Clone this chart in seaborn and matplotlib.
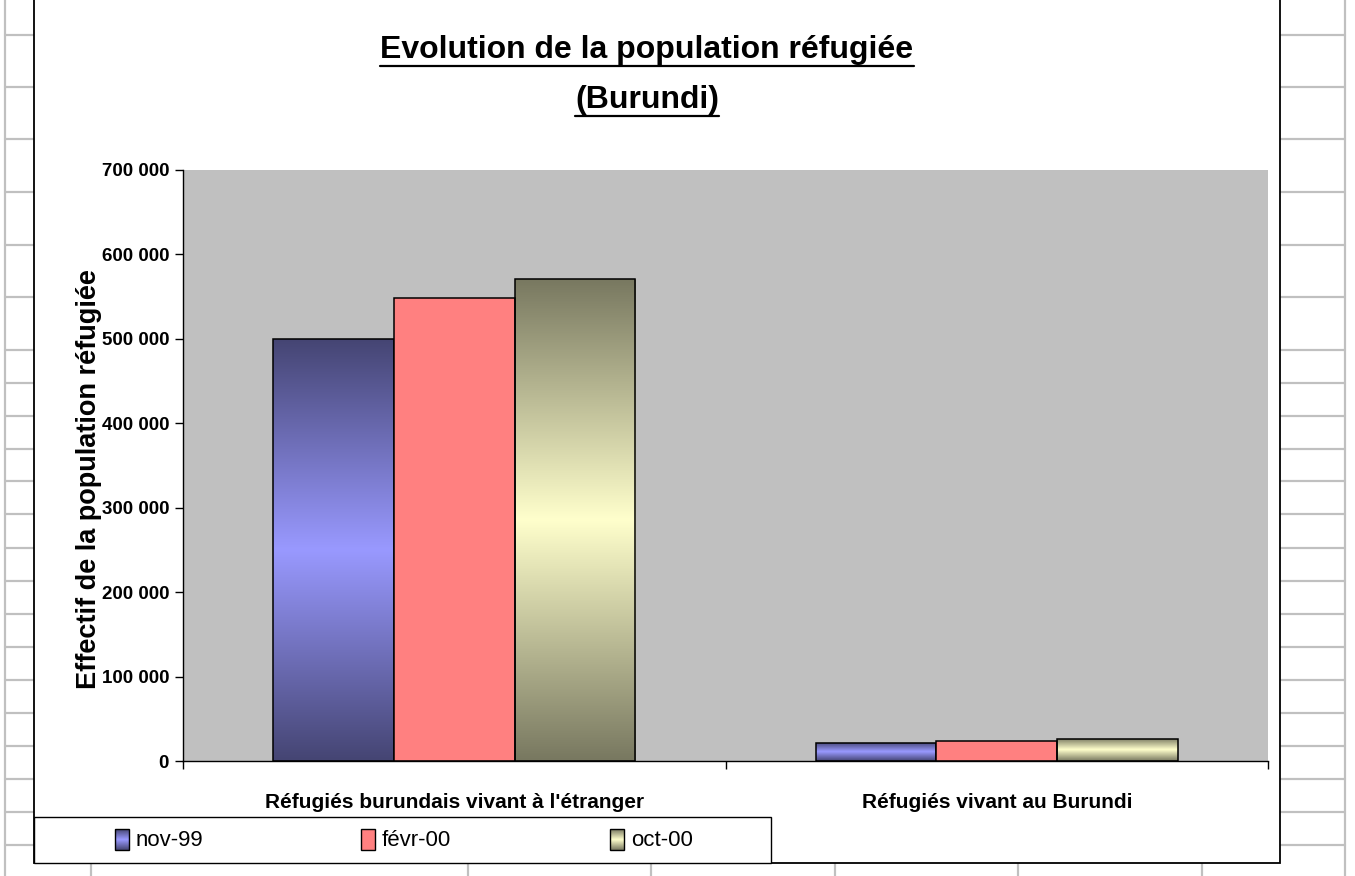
import numpy as np
import pandas as pd
import matplotlib
matplotlib.use("Agg")
import matplotlib.pyplot as plt
import seaborn as sns
from matplotlib import font_manager
from matplotlib.patches import Rectangle
from matplotlib.lines import Line2D
from matplotlib.colors import to_rgb
from matplotlib.ticker import FixedLocator, FuncFormatter

# ---- data -------------------------------------------------------------
categories = ["Réfugiés burundais vivant à l'étranger", "Réfugiés vivant au Burundi"]
periods = ["nov-99", "févr-00", "oct-00"]
values_nov99 = [500000, 21500]
values_fevr00 = [548000, 24000]
values_oct00 = [571000, 26500]
y_ticks = [0, 100000, 200000, 300000, 400000, 500000, 600000, 700000]
title_lines = ["Evolution de la population réfugiée", "(Burundi)"]
y_label = "Effectif de la population réfugiée"

series_colors = {"nov-99": "#9999FF", "févr-00": "#FF8080", "oct-00": "#FFFFCC"}
gradient_series = {"nov-99": 0.45, "oct-00": 0.47}   # shade factor of the dark edge

# ---- fonts ------------------------------------------------------------
sns.set_theme(style="white")
installed = {f.name for f in font_manager.fontManager.ttflist}
SANS = "Liberation Sans" if "Liberation Sans" in installed else "DejaVu Sans"
plt.rcParams["font.family"] = [SANS, "DejaVu Sans"]

W, H = 1355, 876
fig = plt.figure(figsize=(W / 100, H / 100), dpi=100)
fig.patch.set_facecolor("white")


def fx(x):
    return x / W


def fy(y):
    return 1 - y / H


def fig_line(xs, ys, **kw):
    fig.add_artist(Line2D([fx(v) for v in xs], [fy(v) for v in ys],
                          transform=fig.transFigure, **kw))


def fig_rect(x0, y0, x1, y1, **kw):
    r = Rectangle((fx(x0), fy(y1)), fx(x1) - fx(x0), fy(y0) - fy(y1),
                  transform=fig.transFigure, **kw)
    fig.add_artist(r)
    return r


# ---- worksheet cell grid around the chart ----------------------------
grid_kw = dict(color="#C0C0C0", linewidth=1.6, zorder=0)
row_lines = [35, 87, 139, 192, 245, 297, 350, 383, 416, 449, 481, 514, 548,
             581, 614, 647, 680, 713, 746, 779, 812, 845]
for y in row_lines:
    fig_line([5, 34], [y, y], **grid_kw)
    fig_line([1280, 1345], [y, y], **grid_kw)
fig_line([5, 5], [0, H], **grid_kw)
fig_line([1345, 1345], [0, H], **grid_kw)
for x in [91, 468, 651, 835, 1018, 1202]:
    fig_line([x, x], [863, H], **grid_kw)

# chart area
fig_rect(34, -10, 1280, 863, facecolor="white", edgecolor="black",
         linewidth=1.3, zorder=1)

# ---- plot area --------------------------------------------------------
PL, PT, PR, PB = 183, 170, 1268, 761
ax = fig.add_axes([fx(PL), fy(PB), fx(PR) - fx(PL), fy(PT) - fy(PB)], zorder=2)
ax.set_facecolor("#C0C0C0")

df = pd.DataFrame({
    "categorie": categories * 3,
    "periode": [p for p in periods for _ in categories],
    "effectif": values_nov99 + values_fevr00 + values_oct00,
})

sns.barplot(data=df, x="categorie", y="effectif", hue="periode",
            order=categories, hue_order=periods,
            palette=series_colors, saturation=1, width=2 / 3,
            edgecolor="black", linewidth=1.1, legend=False, ax=ax)


def gradient_image(base, shade, n=256):
    light = np.array(to_rgb(base))
    dark = light * shade
    t = np.linspace(0, 1, n)
    f = 1 - np.abs(2 * t - 1)
    return (dark[None, :] + (light - dark)[None, :] * f[:, None])[:, None, :]


for patch in ax.patches:
    fc = patch.get_facecolor()[:3]
    for name, shade in gradient_series.items():
        if np.allclose(fc, to_rgb(series_colors[name]), atol=0.01):
            x0, y0 = patch.get_x(), patch.get_y()
            w, h = patch.get_width(), patch.get_height()
            im = ax.imshow(gradient_image(series_colors[name], shade),
                           extent=(x0, x0 + w, y0, y0 + h), origin="lower",
                           aspect="auto", interpolation="bilinear",
                           zorder=patch.get_zorder() - 0.05)
            im.set_clip_path(patch)
            patch.set_facecolor("none")

ax.set_xlim(-0.5, 1.5)
ax.set_ylim(0, 700000)
ax.set_xlabel("")
ax.set_ylabel("")

for side in ["top", "right"]:
    ax.spines[side].set_visible(False)
for side in ["left", "bottom"]:
    ax.spines[side].set_color("black")
    ax.spines[side].set_linewidth(1.0)

ax.yaxis.set_major_locator(FixedLocator(y_ticks))
ax.yaxis.set_major_formatter(FuncFormatter(lambda v, _: f"{int(v):,}".replace(",", " ")))
ax.tick_params(axis="y", which="major", direction="out", length=6, width=1.0,
               color="black", left=True, pad=4, labelsize=13.5, labelcolor="black")
for lab in ax.get_yticklabels():
    lab.set_fontweight("bold")

ax.set_xticks([0, 1])
ax.set_xticklabels(categories, fontweight="bold", fontsize=15, color="black")
ax.set_xticks([-0.5, 0.5, 1.5], minor=True)
ax.tick_params(axis="x", which="major", length=0, pad=23)
ax.tick_params(axis="x", which="minor", direction="out", length=6, width=1.0,
               color="black", bottom=True)
ax.grid(False)

# axis title
fig.text(fx(89), fy(479), y_label, rotation=90, ha="center", va="center",
         fontsize=19.5, fontweight="bold", color="black")

# chart title, underlined
title_texts = []
for line, yc in zip(title_lines, [50, 100]):
    t = fig.text(fx(647), fy(yc), line, ha="center", va="center",
                 fontsize=23, fontweight="bold", color="black")
    title_texts.append(t)

# ---- legend -----------------------------------------------------------
fig_rect(34, 817, 771, 863, facecolor="white", edgecolor="black",
         linewidth=1.0, zorder=3)
legend_x = [115, 361, 610]
for name, lx in zip(periods, legend_x):
    mx0, mx1, my0, my1 = lx, lx + 14, 829, 850
    if name in gradient_series:
        iax = fig.add_axes([fx(mx0), fy(my1), fx(mx1) - fx(mx0), fy(my0) - fy(my1)],
                           zorder=4)
        iax.imshow(gradient_image(series_colors[name], gradient_series[name], 64),
                   aspect="auto", interpolation="bilinear", origin="lower")
        iax.set_axis_off()
        fig_rect(mx0, my0, mx1, my1, facecolor="none", edgecolor="black",
                 linewidth=1.0, zorder=5)
    else:
        fig_rect(mx0, my0, mx1, my1, facecolor=series_colors[name],
                 edgecolor="black", linewidth=1.0, zorder=5)
    fig.text(fx(mx1 + 7), fy(840), name, ha="left", va="center",
             fontsize=16, color="black", zorder=5)

# underline the title lines
fig.canvas.draw()
renderer = fig.canvas.get_renderer()
for t in title_texts:
    bb = t.get_window_extent(renderer)
    yline = (bb.y0 - 1) / fig.bbox.height
    fig.add_artist(Line2D([bb.x0 / fig.bbox.width, bb.x1 / fig.bbox.width],
                          [yline, yline], transform=fig.transFigure,
                          color="black", linewidth=1.6, zorder=5))

fig.savefig("out.png", dpi=100, facecolor="white")
